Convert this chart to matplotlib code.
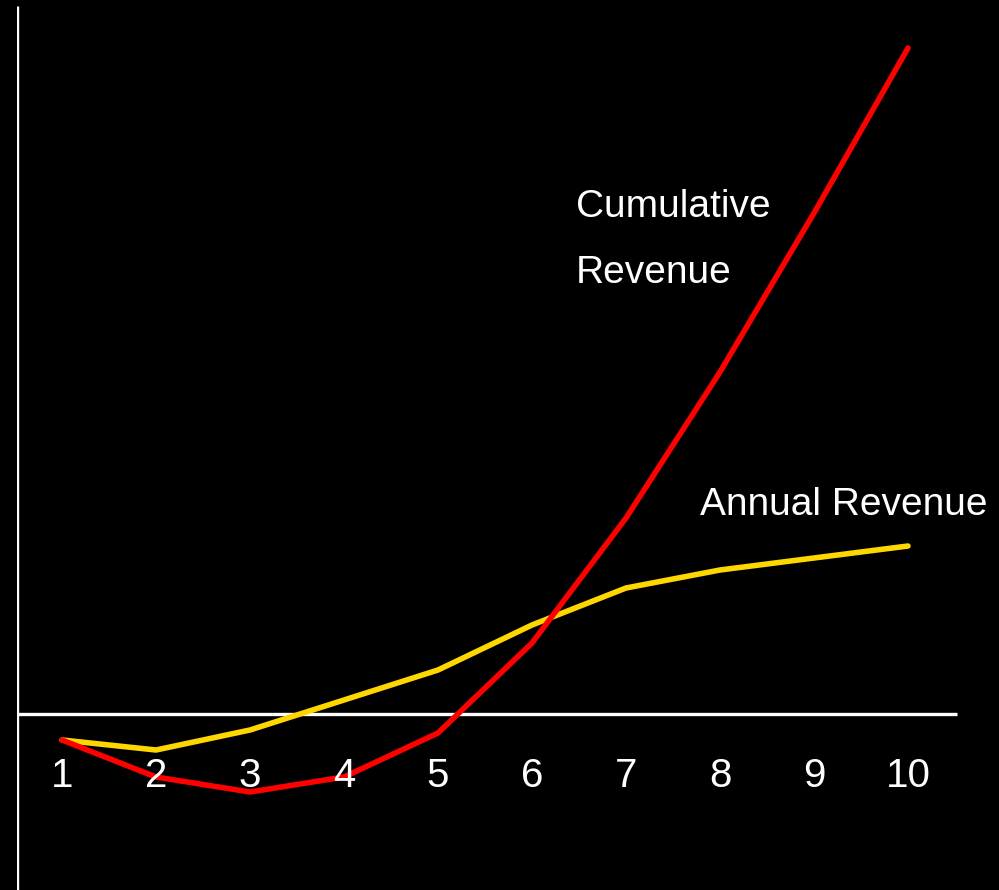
import matplotlib.pyplot as plt

plt.rcParams['font.family'] = ['Liberation Sans', 'DejaVu Sans']

years = [1, 2, 3, 4, 5, 6, 7, 8, 9, 10]
annual_revenue = [-26, -36, -16, 14, 44, 89, 126, 144, 156, 168]
cumulative_revenue = [-26, -63, -78, -63, -19, 71, 196, 342, 501, 666]
year_labels = ['1', '2', '3', '4', '5', '6', '7', '8', '9', '10']

fig = plt.figure(figsize=(9.99, 8.9), dpi=100, facecolor='black')
ax = fig.add_axes([17 / 999, 0, 982 / 999, 1])
ax.set_facecolor('black')
ax.set_xlim(0.5213, 10.968)
ax.set_ylim(-176, 714)
ax.axis('off')

# axes drawn by hand: vertical at the left, zero line across
ax.plot([0.5213, 0.5213], [-176, 708], color='white', lw=2.4, solid_capstyle='butt')
ax.plot([0.5213, 10.52], [0, 0], color='white', lw=2.4, solid_capstyle='butt')

ax.plot(years, annual_revenue, color='#ffd700', lw=4, solid_capstyle='round',
        solid_joinstyle='round')
ax.plot(years, cumulative_revenue, color='#ff0000', lw=4, solid_capstyle='round',
        solid_joinstyle='round')

for x, lab in zip(years, year_labels):
    ax.text(x, -73, lab, color='white', fontsize=29, ha='center', va='baseline')

ax.text(6.468, 497, 'Cumulative', color='white', fontsize=28, ha='left', va='baseline')
ax.text(6.468, 431, 'Revenue', color='white', fontsize=28, ha='left', va='baseline')
ax.text(7.787, 199, 'Annual Revenue', color='white', fontsize=28, ha='left', va='baseline')

fig.savefig('out.png', dpi=100, facecolor='black')
